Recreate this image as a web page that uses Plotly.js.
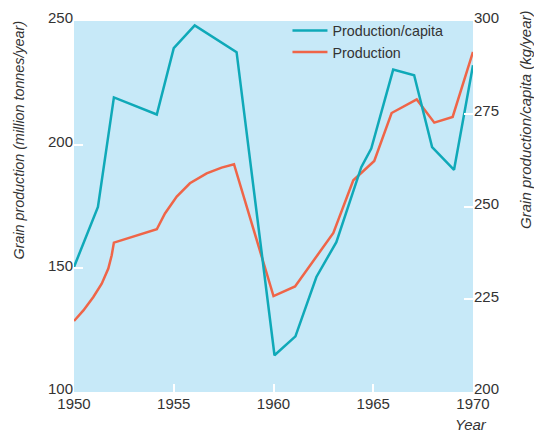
<!DOCTYPE html>
<html>
<head>
<meta charset="utf-8">
<script src="https://cdn.plot.ly/plotly-3.0.1.min.js"></script>
<style>html,body{margin:0;padding:0;background:#fff;}#chart{width:534px;height:434px;}</style>
</head>
<body>
<div id="chart"></div>
<script>
// Production (million tonnes/year), left axis
var prodYears = [1950, 1950.47, 1950.97, 1951.39, 1951.72, 1951.89, 1952, 1954.15, 1954.56, 1955.15, 1955.81, 1956.65, 1957.4, 1958.02, 1960, 1961.08, 1963, 1964, 1965.05, 1965.92, 1967.18, 1968.06, 1968.98, 1970];
var prodValues = [128.7, 133.0, 138.4, 143.8, 149.9, 155.3, 160.4, 165.8, 172.2, 179.0, 184.4, 188.4, 190.7, 192.1, 138.8, 142.7, 164.3, 185.6, 193.4, 212.8, 218.3, 208.9, 211.2, 237.5];
// Production per capita (kg/year), right axis
var capYears = [1950, 1951.2, 1952, 1954.15, 1955, 1956.05, 1958.15, 1960.05, 1961.1, 1962.15, 1963.15, 1964.4, 1964.9, 1966, 1967.05, 1967.95, 1969.05, 1970];
var capValues = [233.7, 249.9, 279.4, 274.8, 292.7, 298.8, 291.6, 209.9, 215.0, 231.0, 240.4, 260.6, 265.6, 286.9, 285.4, 266.0, 259.9, 288.1];
var xTicks = [1950, 1955, 1960, 1965, 1970];
var leftTicks = [100, 150, 200, 250];
var rightTicks = [200, 225, 250, 275, 300];

var FONT = '"Liberation Sans Narrow", "Arial Narrow", "Liberation Sans", Arial, sans-serif';
var traces = [
  {x: prodYears, y: prodValues, name: 'Production', mode: 'lines', yaxis: 'y',
   line: {color: '#ef6548', width: 2.5}, legendrank: 2},
  {x: capYears, y: capValues, name: 'Production/capita', mode: 'lines', yaxis: 'y2',
   line: {color: '#0fa9b8', width: 2.5}, legendrank: 1}
];
var layout = {
  width: 534, height: 434,
  margin: {l: 74, r: 61, t: 21, b: 42, autoexpand: false},
  paper_bgcolor: '#ffffff', plot_bgcolor: '#c7e9f8',
  font: {family: FONT, size: 15, color: '#333'},
  showlegend: true,
  legend: {x: 0.535, y: 1.017, xanchor: 'left', yanchor: 'top', bgcolor: 'rgba(0,0,0,0)',
           font: {family: FONT, size: 14.3, color: '#333'}, tracegroupgap: 0, itemwidth: 35},
  xaxis: {range: [1950, 1970], tickvals: xTicks, ticktext: xTicks.map(String),
          showgrid: false, zeroline: false, showline: false, ticklabelstandoff: 1,
          ticks: 'inside', ticklen: 8, tickwidth: 2, tickcolor: '#ffffff'},
  yaxis: {range: [100, 250], tickvals: leftTicks, ticktext: leftTicks.map(String),
          showgrid: false, zeroline: false, showline: false, ticklabelshift: -3,
          ticks: 'inside', ticklen: 9, tickwidth: 2, tickcolor: '#ffffff'},
  yaxis2: {range: [200, 300], tickvals: rightTicks, ticktext: rightTicks.map(String),
           overlaying: 'y', side: 'right', ticklabelshift: -3,
           showgrid: false, zeroline: false, showline: false,
           ticks: 'inside', ticklen: 9, tickwidth: 2, tickcolor: '#ffffff'},
  annotations: [
    {text: '<i>Grain production (million tonnes/year)</i>', xref: 'paper', yref: 'paper',
     x: -0.137, y: 0.679, textangle: -90, showarrow: false, xanchor: 'center', yanchor: 'middle',
     font: {family: FONT, size: 14.3, color: '#333'}},
    {text: '<i>Grain production/capita (kg/year)</i>', xref: 'paper', yref: 'paper',
     x: 1.13, y: 0.733, textangle: -90, showarrow: false, xanchor: 'center', yanchor: 'middle',
     font: {family: FONT, size: 15, color: '#333'}},
    {text: '<i>Year</i>', xref: 'paper', yref: 'paper',
     x: 0.995, y: -0.088, showarrow: false, xanchor: 'center', yanchor: 'middle',
     font: {family: FONT, size: 15, color: '#333'}}
  ]
};
Plotly.newPlot('chart', traces, layout, {displayModeBar: false, staticPlot: true});
</script>
</body>
</html>
